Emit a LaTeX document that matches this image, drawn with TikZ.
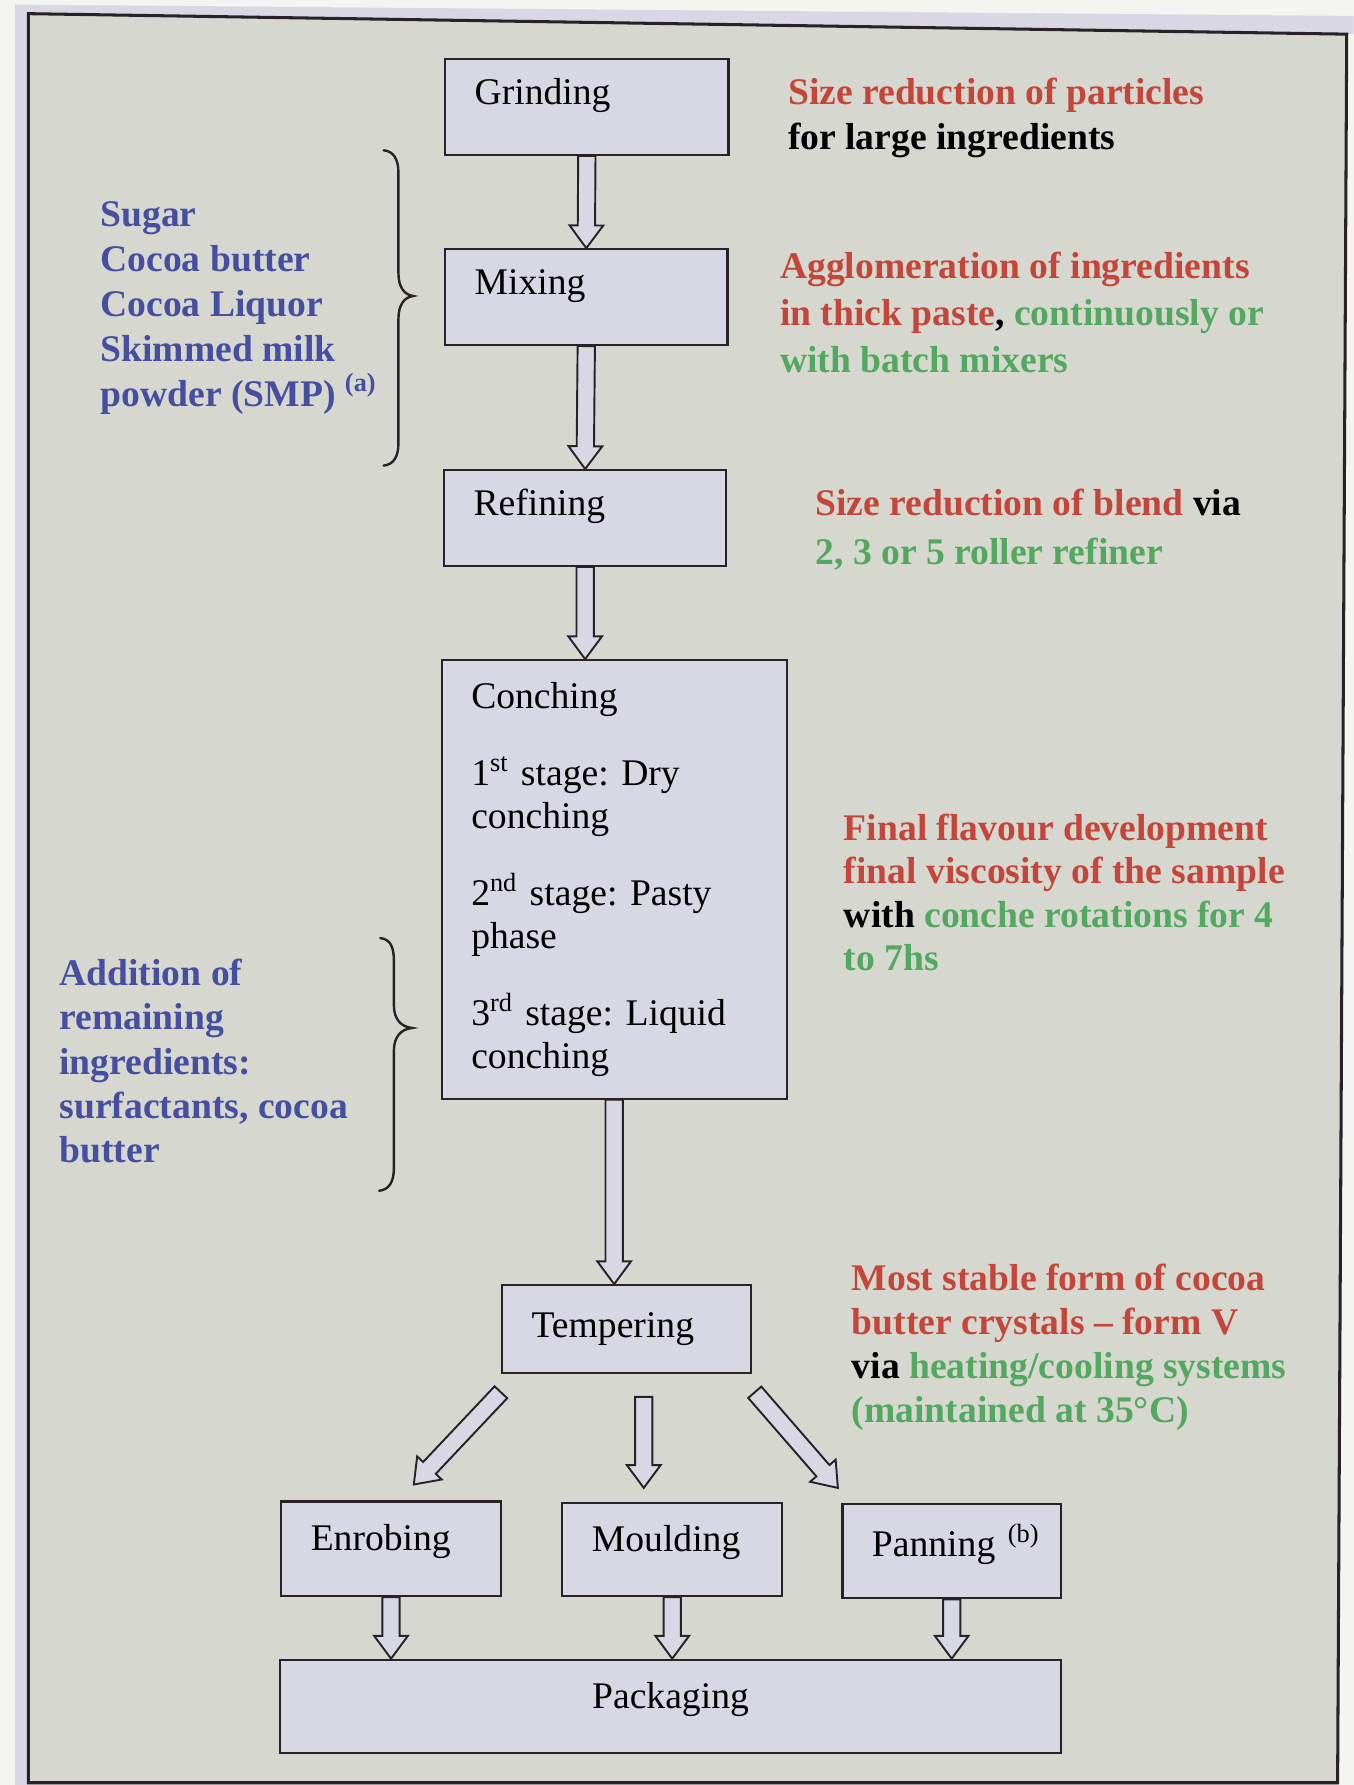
\documentclass[tikz,border=0pt]{standalone}
\usepackage{fontspec}
\setmainfont{Liberation Serif}
\usetikzlibrary{calc}
\definecolor{paper}{RGB}{244,244,241}
\definecolor{rim}{RGB}{217,215,227}
\definecolor{panel}{RGB}{214,216,208}
\definecolor{stagefill}{RGB}{216,215,228}
\definecolor{ink}{RGB}{40,34,38}
\definecolor{notered}{RGB}{196,70,58}
\definecolor{notegreen}{RGB}{82,168,94}
\definecolor{noteblue}{RGB}{70,78,160}
\newcommand{\shaftw}{0.19cm}
\newcommand{\headw}{0.37cm}
\newcommand{\headlen}{0.5cm}
\newcommand{\blockarrow}[2]{%
  \coordinate (hb) at ($(#2)!\headlen!(#1)$);
  \draw[fatarrow] ($(#1)!\shaftw!90:(#2)$) -- ($(hb)!\shaftw!90:(#2)$) -- ($(hb)!\headw!90:(#2)$) -- (#2) -- ($(hb)!\headw!-90:(#2)$) -- ($(hb)!\shaftw!-90:(#2)$) -- ($(#1)!\shaftw!-90:(#2)$) -- cycle;}
\tikzset{
  stage/.style={draw=ink, line width=1.4pt, fill=stagefill, inner xsep=0.65cm, inner ysep=0pt, align=left, font=\fontsize{23.5}{26.6}\selectfont},
  note/.style={anchor=north west, inner sep=0pt, align=left, font=\bfseries\fontsize{23.5}{#1}\selectfont},
  fatarrow/.style={draw=ink, line width=1.2pt, fill=stagefill, line join=miter},
  brace/.style={draw=ink, line width=1.5pt, line cap=round}
}
\begin{document}
\frenchspacing
\begin{tikzpicture}[x=0.025cm, y=-0.025cm]
  %fondo
  \fill[paper] (0,0) rectangle (1189,1568);
  \useasboundingbox (0,0) rectangle (1189,1568);
  \fill[rim] (13,4) -- (1189,14) -- (1189,30) -- (1183,30) -- (1175,1568) -- (13,1568) -- cycle;
  \filldraw[fill=panel, draw=ink, line width=1.9pt] (25,12) -- (1183,30) -- (1175,1566) -- (25,1566) -- cycle;
  %fasi
  \node[stage, text width=4.925cm, minimum height=2.1cm, text depth=0.68cm] (grind) at (515.5,94) {Grinding};
  \node[stage, text width=4.9cm, minimum height=2.1cm, text depth=0.68cm] (mix) at (515,261) {Mixing};
  \node[stage, text width=4.9cm, minimum height=2.1cm, text depth=0.68cm] (refine) at (514,455) {Refining};
  \node[stage, text width=6.275cm, minimum height=9.625cm] (conch) at (539.5,772.5) {Conching\\[0.76cm]
    1\textsuperscript{st} stage: Dry\\ conching\\[0.76cm]
    2\textsuperscript{nd} stage: Pasty\\ phase\\[0.76cm]
    3\textsuperscript{rd} stage: Liquid\\ conching};
  \node[stage, text width=4.175cm, minimum height=1.925cm] (temp) at (550.5,1167.5) {Tempering};
  \node[stage, text width=3.525cm, minimum height=2.075cm, text depth=0.48cm] (enrob) at (343.5,1360.5) {Enrobing};
  \node[stage, text width=3.525cm, minimum height=2.05cm, text depth=0.48cm] (mould) at (590.5,1361) {Moulding};
  \node[stage, text width=4.2cm, inner xsep=0.3cm, minimum height=2.075cm, text depth=0.48cm] (pan) at (836,1362.5) {\hspace*{0.35cm}Panning \textsuperscript{(b)}};
  \node[stage, text width=15.85cm, minimum height=2.05cm, text depth=0.48cm, align=center] (pack) at (589,1499) {Packaging};
  %note
  \node[note=28.4pt] (grindnote) at (692,68) {\textcolor{notered}{Size reduction of particles}\\ for large ingredients};
  \node[note=29.5pt] (mixnote) at (685,221) {\textcolor{notered}{Agglomeration of ingredients}\\
    \textcolor{notered}{in thick paste}, \textcolor{notegreen}{continuously or}\\
    \textcolor{notegreen}{with batch mixers}};
  \node[note=31pt] (refinenote) at (716,429) {\textcolor{notered}{Size reduction of blend} via\\
    \textcolor{notegreen}{2, 3 or 5 roller refiner}};
  \node[note=27pt] (conchnote) at (741,715) {\textcolor{notered}{Final flavour development}\\
    \textcolor{notered}{final viscosity of the sample}\\
    with \textcolor{notegreen}{conche rotations for 4}\\
    \textcolor{notegreen}{to 7hs}};
  \node[note=27.5pt] (tempnote) at (748,1110) {\textcolor{notered}{Most stable form of cocoa}\\
    \textcolor{notered}{butter crystals – form V}\\
    via \textcolor{notegreen}{heating/cooling systems}\\
    \textcolor{notegreen}{(maintained at 35°C)}};
  \node[note=28pt, text=noteblue] (ingred) at (88,177) {Sugar\\ Cocoa butter\\ Cocoa Liquor\\ Skimmed milk\\ powder (SMP) \textsuperscript{(a)}};
  \node[note=27.7pt, text=noteblue] (addit) at (52,842) {Addition of\\ remaining\\ ingredients:\\ surfactants, cocoa\\ butter};
  %graffe
  \draw[brace] (337,132) .. controls (346,133) and (350,140) .. (350,152) -- (350,240) .. controls (350,252) and (355,259) .. (363,260) .. controls (355,261) and (350,268) .. (350,280) -- (350,389) .. controls (350,401) and (346,408) .. (337,409);
  \draw[brace] (334,824) .. controls (343,825) and (346,832) .. (346,844) -- (346,883) .. controls (346,895) and (352,902) .. (362,903) .. controls (352,904) and (346,911) .. (346,923) -- (346,1026) .. controls (346,1038) and (342,1045) .. (333,1046);
  %frecce
  \blockarrow{grind.south}{mix.north}
  \blockarrow{mix.south}{refine.north}
  \coordinate (c1) at (refine.south |- conch.north);
  \blockarrow{refine.south}{c1}
  \coordinate (c2) at (conch.south |- temp.north);
  \blockarrow{conch.south}{c2}
  \coordinate (t1) at ($(temp.south west)+(0,16)$);
  \coordinate (e1) at ($(enrob.north)+(20,-14)$);
  \blockarrow{t1}{e1}
  \coordinate (t2) at ($(temp.south)+(15,20)$);
  \coordinate (m1) at ($(mould.north)+(-25,-12)$);
  \blockarrow{t2}{m1}
  \coordinate (t3) at ($(temp.south east)+(2,16)$);
  \coordinate (p1) at ($(pan.north)+(-100,-13)$);
  \blockarrow{t3}{p1}
  \coordinate (k1) at (enrob.south |- pack.north);
  \blockarrow{enrob.south}{k1}
  \coordinate (k2) at (mould.south |- pack.north);
  \blockarrow{mould.south}{k2}
  \coordinate (k3) at (pan.south |- pack.north);
  \blockarrow{pan.south}{k3}
\end{tikzpicture}
\end{document}
